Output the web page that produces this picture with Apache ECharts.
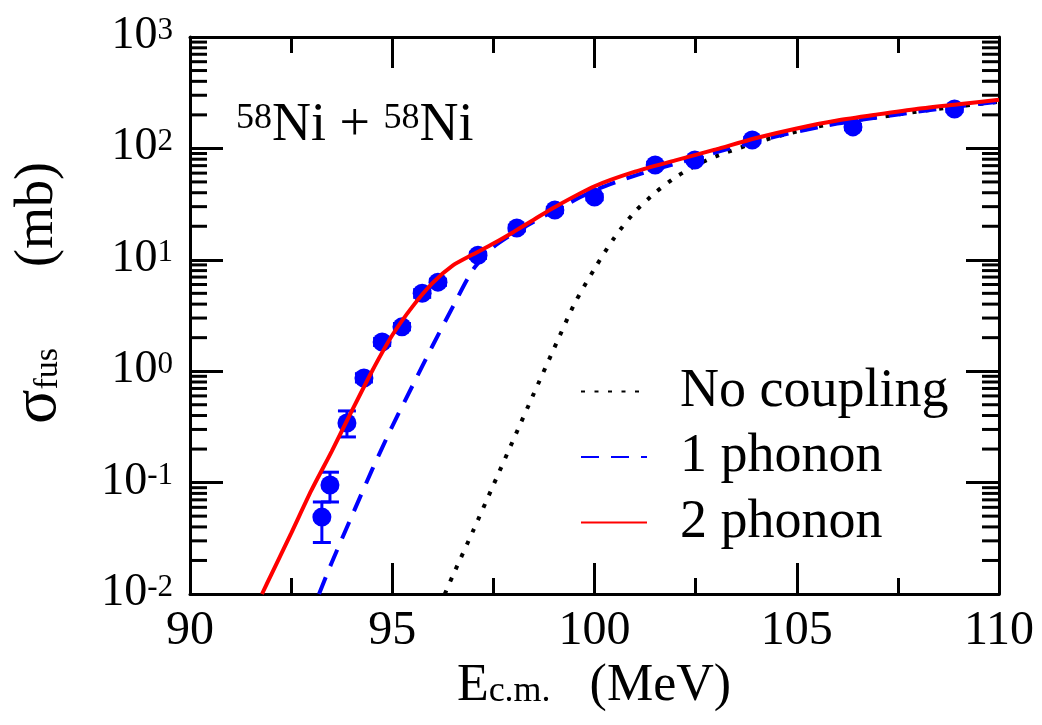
<!DOCTYPE html>
<html>
<head>
<meta charset="utf-8">
<script src="https://cdn.jsdelivr.net/npm/echarts@6/dist/echarts.min.js"></script>
<style>
  html, body { margin: 0; padding: 0; background: #fff; }
  #chart { width: 1042px; height: 725px; }
</style>
</head>
<body>
<div id="chart"></div>
<script>
// 2 phonon (red solid)
var twoPhononE = [91.78, 92, 92.5, 93, 93.5, 94, 94.5, 95, 95.5, 96, 96.5, 97, 97.5, 98, 98.5, 99, 100, 101, 102, 103, 104, 105, 106, 107, 108, 109, 110];
var twoPhononS = [0.01, 0.0147, 0.035, 0.085, 0.19, 0.44, 1.0, 2.1, 3.8, 6.2, 8.9, 11.2, 14.0, 17.8, 22.9, 29.5, 45.7, 61.8, 78, 98, 124, 151, 178, 202, 227, 249, 273];
// 1 phonon (blue dashed)
var onePhononE = [93.19, 93.5, 94, 94.5, 95, 95.5, 96, 96.5, 97, 97.5, 98, 98.5, 99, 100, 101, 102, 103, 104, 105, 106, 107, 108, 109, 110];
var onePhononS = [0.01, 0.019, 0.05, 0.13, 0.32, 0.74, 1.7, 3.8, 8.2, 13.0, 17.3, 22, 27.5, 42, 57, 73, 92, 116, 141, 167, 190, 214, 238, 263];
// no coupling (black dotted)
var noCoupE = [96.3, 96.5, 97, 97.5, 98, 98.5, 99, 99.5, 100, 100.5, 101, 101.5, 102, 102.5, 103, 104, 105, 106, 107, 108, 109, 110];
var noCoupS = [0.01, 0.0147, 0.037, 0.095, 0.245, 0.63, 1.6, 4.0, 8.3, 16.0, 27, 40, 55, 70, 85, 113, 142, 170, 190, 214, 238, 262];
// experiment
var expE = [93.26, 93.46, 93.88, 94.30, 94.75, 95.24, 95.74, 96.13, 97.12, 98.08, 99.02, 100.0, 101.5, 102.48, 103.9, 106.39, 108.9];
var expS = [0.049, 0.095, 0.343, 0.87, 1.83, 2.5, 5.0, 6.3, 11, 19.3, 28, 36.6, 71, 78.7, 119, 156, 226];
var expLo = [0.029, 0.067, 0.257, 0.80, 1.70, 2.35, 4.6, 5.9, 10.3, 18.2, 26.5, 34.6, 67, 74.5, 113, 148, 215];
var expHi = [0.067, 0.124, 0.44, 0.95, 1.97, 2.68, 5.4, 6.7, 11.7, 20.4, 29.5, 38.6, 75, 83, 125, 164, 237];
// y minor ticks (2..9 in each decade)
var mantissas = [2, 3, 4, 5, 6, 7, 8, 9];
var decades = [0.01, 0.1, 1, 10, 100];

var FONT = 'Liberation Serif';

function zip(a, b) {
  var out = [];
  for (var i = 0; i < a.length; i++) out.push([a[i], b[i]]);
  return out;
}

var minorVals = [];
decades.forEach(function (d) {
  mantissas.forEach(function (m) { minorVals.push([90, m * d]); });
});

var errData = [];
for (var i = 0; i < expE.length; i++) errData.push([expE[i], expLo[i], expHi[i]]);

var chart = echarts.init(document.getElementById('chart'));

var xCommon = {
  type: 'value', min: 90, max: 110, interval: 5,
  axisLine: { lineStyle: { color: '#000', width: 3 } },
  axisTick: { inside: true, length: 31, lineStyle: { color: '#000', width: 3 } },
  minorTick: { show: true, splitNumber: 2, length: 16, lineStyle: { color: '#000', width: 3 } },
  splitLine: { show: false }
};
var yCommon = {
  type: 'log', logBase: 10, min: 0.01, max: 1000,
  axisLine: { lineStyle: { color: '#000', width: 3 } },
  axisTick: { inside: true, length: 33, lineStyle: { color: '#000', width: 3 } },
  splitLine: { show: false }
};

var option = {
  animation: false,
  textStyle: { fontFamily: FONT },
  grid: { left: 190, right: 43, top: 37, bottom: 131, containLabel: false },
  xAxis: [
    echarts.util.merge({
      position: 'bottom',
      axisLabel: { margin: 13, color: '#000', fontSize: 48, lineHeight: 48, fontFamily: FONT }
    }, xCommon, true),
    echarts.util.merge({ position: 'top', axisLabel: { show: false } }, xCommon, true)
  ],
  yAxis: [
    echarts.util.merge({
      position: 'left',
      axisLabel: {
        margin: 17, color: '#000', fontFamily: FONT,
        formatter: function (v) {
          var e = Math.round(Math.log(v) / Math.LN10);
          return '{b|10}{e|' + e + '}';
        },
        rich: {
          b: { fontSize: 46, fontFamily: FONT, color: '#000', lineHeight: 44, verticalAlign: 'bottom' },
          e: { fontSize: 31, fontFamily: FONT, color: '#000', lineHeight: 8, verticalAlign: 'top' }
        }
      }
    }, yCommon, true),
    echarts.util.merge({ position: 'right', axisLabel: { show: false } }, yCommon, true)
  ],
  legend: {
    orient: 'vertical', left: 580, top: 364, padding: 0,
    itemWidth: 66, itemHeight: 2, itemGap: 10.5,
    itemStyle: { opacity: 0 },
    data: ['No coupling', '1 phonon', '2 phonon'],
    textStyle: { fontSize: 54, fontFamily: FONT, color: '#000', lineHeight: 55, padding: [0, 0, 0, 28] }
  },
  graphic: [
    {
      type: 'text', left: 236, top: 99,
      style: {
        text: '{s|58}{n|Ni + }{s|58}{n|Ni}', fontFamily: FONT,
        rich: {
          n: { fontSize: 54, fontFamily: FONT, fill: '#000', lineHeight: 52, verticalAlign: 'bottom' },
          s: { fontSize: 36, fontFamily: FONT, fill: '#000', lineHeight: 20, verticalAlign: 'top' }
        }
      }
    },
    {
      type: 'text', x: 594, y: 685,
      style: {
        text: '{n|E}{sub|c.m.}{n|   (MeV)}', align: 'center', verticalAlign: 'middle', fontFamily: FONT,
        rich: {
          n: { fontSize: 52, fontFamily: FONT, fill: '#000', lineHeight: 50, verticalAlign: 'top' },
          sub: { fontSize: 36, fontFamily: FONT, fill: '#000', lineHeight: 10, verticalAlign: 'bottom' }
        }
      }
    },
    {
      type: 'text', x: 38, y: 293, rotation: Math.PI / 2,
      style: {
        text: '{s|σ}{sub|fus}{n|      (mb)}', align: 'center', verticalAlign: 'middle', fontFamily: FONT,
        rich: {
          s: { fontSize: 64, fontFamily: FONT, fill: '#000', lineHeight: 54 },
          n: { fontSize: 54, fontFamily: FONT, fill: '#000', lineHeight: 54 },
          sub: { fontSize: 34, fontFamily: FONT, fill: '#000', lineHeight: 12, verticalAlign: 'bottom' }
        }
      }
    }
  ],
  series: [
    {
      name: 'No coupling', type: 'line', data: zip(noCoupE, noCoupS),
      symbol: 'none', smooth: 0.25, z: 3,
      lineStyle: { color: '#000', width: 4, type: [4, 9.5], cap: 'butt' },
      itemStyle: { color: '#000' }
    },
    {
      name: '1 phonon', type: 'line', data: zip(onePhononE, onePhononS),
      symbol: 'none', smooth: 0.25, z: 3,
      lineStyle: { color: '#0000ff', width: 4, type: [18, 12] },
      itemStyle: { color: '#0000ff' }
    },
    {
      name: 'exp', type: 'scatter', data: zip(expE, expS),
      symbol: 'circle', symbolSize: 19, z: 4,
      itemStyle: { color: '#0000ff', opacity: 1 }
    },
    {
      name: 'err', type: 'custom', data: errData, z: 4, clip: false,
      renderItem: function (params, api) {
        var lo = api.coord([api.value(0), api.value(1)]);
        var hi = api.coord([api.value(0), api.value(2)]);
        var w = 9;
        var st = { stroke: '#0000ff', lineWidth: 3 };
        return {
          type: 'group',
          children: [
            { type: 'line', shape: { x1: lo[0], y1: lo[1], x2: hi[0], y2: hi[1] }, style: st },
            { type: 'line', shape: { x1: lo[0] - w, y1: lo[1], x2: lo[0] + w, y2: lo[1] }, style: st },
            { type: 'line', shape: { x1: hi[0] - w, y1: hi[1], x2: hi[0] + w, y2: hi[1] }, style: st }
          ]
        };
      }
    },
    {
      name: '2 phonon', type: 'line', data: zip(twoPhononE, twoPhononS),
      symbol: 'none', smooth: 0.25, z: 5,
      lineStyle: { color: '#ff0000', width: 4 },
      itemStyle: { color: '#ff0000' }
    },
    {
      // minor ticks of the log axis, left and right frame
      name: 'minorTicks', type: 'custom', data: minorVals, z: 6, clip: false, silent: true,
      renderItem: function (params, api) {
        var p = api.coord([api.value(0), api.value(1)]);
        var r = api.coord([110, api.value(1)]);
        var st = { stroke: '#000', lineWidth: 3 };
        return {
          type: 'group',
          children: [
            { type: 'line', shape: { x1: p[0], y1: p[1], x2: p[0] + 17, y2: p[1] }, style: st },
            { type: 'line', shape: { x1: r[0] - 17, y1: r[1], x2: r[0], y2: r[1] }, style: st }
          ]
        };
      }
    }
  ]
};

chart.setOption(option);
</script>
</body>
</html>
